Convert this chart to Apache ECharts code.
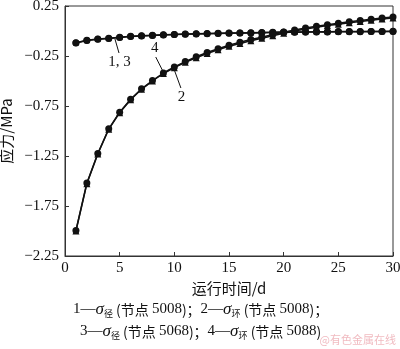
<!DOCTYPE html>
<html>
<head>
<meta charset="utf-8">
<script src="https://cdn.jsdelivr.net/npm/echarts@6/dist/echarts.min.js"></script>
<style>
  html, body { margin: 0; padding: 0; background: #fff; }
  #chart { width: 400px; height: 349px; }
</style>
</head>
<body>
<div id="chart"></div>
<script>
// Running time (days)
const days = [1,2,3,4,5,6,7,8,9,10,11,12,13,14,15,16,17,18,19,20,21,22,23,24,25,26,27,28,29,30];

// 1 — radial stress, node 5008
const radial5008 = [-0.117,-0.093,-0.080,-0.072,-0.062,-0.053,-0.047,-0.042,-0.038,-0.034,-0.031,-0.028,-0.025,-0.023,-0.021,-0.019,-0.017,-0.015,-0.013,-0.011,-0.010,-0.009,-0.008,-0.007,-0.006,-0.005,-0.005,-0.004,-0.004,-0.003];
// 3 — radial stress, node 5068
const radial5068 = [-0.120,-0.096,-0.083,-0.074,-0.064,-0.055,-0.049,-0.044,-0.040,-0.036,-0.033,-0.030,-0.027,-0.025,-0.023,-0.021,-0.019,-0.017,-0.015,-0.013,-0.012,-0.011,-0.010,-0.009,-0.008,-0.007,-0.007,-0.006,-0.006,-0.005];
// 2 — hoop stress, node 5008
const hoop5008 = [-2.000,-1.527,-1.230,-0.983,-0.817,-0.687,-0.583,-0.500,-0.425,-0.367,-0.313,-0.267,-0.225,-0.187,-0.153,-0.125,-0.097,-0.073,-0.047,-0.022,0.000,0.020,0.038,0.054,0.068,0.082,0.096,0.108,0.120,0.130];
// 4 — hoop stress, node 5088
const hoop5088 = [-1.995,-1.520,-1.225,-0.978,-0.812,-0.682,-0.578,-0.495,-0.420,-0.360,-0.306,-0.258,-0.215,-0.177,-0.143,-0.113,-0.085,-0.062,-0.036,-0.012,0.010,0.030,0.048,0.063,0.078,0.092,0.105,0.117,0.130,0.140];

const yTicks = [-2.25,-1.75,-1.25,-0.75,-0.25,0.25];

const serif = '"Liberation Serif", "Times New Roman", serif';
const cjk = '"Noto Sans CJK SC", sans-serif';

const pairs = arr => days.map((d, i) => [d, arr[i]]);
const minus = v => String(v).replace('-', '\u2212');

const lineBase = {
  type: 'line',
  lineStyle: { color: '#111', width: 1.5 },
  itemStyle: { color: '#111' },
  symbolSize: 7,
  z: 3
};

// Annotation leader lines with their labels, in data coordinates
const annot = (from, to, text, pos) => ({
  silent: true,
  symbol: 'none',
  lineStyle: { color: '#111', width: 1, type: 'solid' },
  label: {
    show: true, position: pos, formatter: text, distance: 2,
    fontFamily: serif, fontSize: 15, color: '#111'
  },
  data: [[{ coord: from }, { coord: to }]]
});

const richLegend = {
  s: { fontFamily: serif, fontStyle: 'italic', fontSize: 17 },
  sub: { fontFamily: cjk, fontSize: 9, padding: [9, 0, 0, 0] },
  t: { fontFamily: serif, fontSize: 15 }
};

const chart = echarts.init(document.getElementById('chart'));
chart.setOption({
  animation: false,
  backgroundColor: '#fff',
  grid: {
    left: 65, right: 7, top: 6, bottom: 93,
    containLabel: false, outerBoundsMode: 'none',
    show: true, borderColor: '#333', borderWidth: 1, backgroundColor: 'transparent'
  },
  xAxis: {
    type: 'value', min: 0, max: 30, interval: 5,
    axisLine: { onZero: false, lineStyle: { color: '#333', width: 1 } },
    axisTick: { inside: true, length: 4, lineStyle: { color: '#333' } },
    splitLine: { show: false },
    axisLabel: { fontFamily: serif, fontSize: 15, color: '#111', margin: 5 },
    name: '运行时间/d', nameLocation: 'middle', nameGap: 25,
    nameTextStyle: { fontFamily: cjk, fontSize: 15, color: '#111' }
  },
  yAxis: {
    type: 'value', min: -2.25, max: 0.25,
    axisLine: { show: true, onZero: false, lineStyle: { color: '#333', width: 1 } },
    axisTick: { show: true, inside: true, length: 4, customValues: yTicks, lineStyle: { color: '#333' } },
    splitLine: { show: false },
    axisLabel: { customValues: yTicks, formatter: v => minus(v.toFixed(2)), fontFamily: serif, fontSize: 15, color: '#111', margin: 6 },
    name: '应力/MPa', nameLocation: 'middle', nameGap: 47, nameRotate: 90,
    nameTextStyle: { fontFamily: cjk, fontSize: 15, color: '#111' }
  },
  series: [
    Object.assign({}, lineBase, { name: '1', data: pairs(radial5008), symbol: 'circle',
      markLine: annot([4.57, -0.08], [4.94, -0.22], '1, 3', 'end') }),
    Object.assign({}, lineBase, { name: '3', data: pairs(radial5068), symbol: 'circle' }),
    Object.assign({}, lineBase, { name: '2', data: pairs(hoop5008), symbol: 'triangle',
      markLine: annot([9.9, -0.36], [10.6, -0.57], '2', 'end') }),
    Object.assign({}, lineBase, { name: '4', data: pairs(hoop5088), symbol: 'circle',
      markLine: annot([8.9, -0.39], [8.3, -0.26], '4', 'end') })
  ],
  graphic: [
    {
      type: 'text', left: 73, top: 301,
      style: {
        text: '{t|1—}{s|σ}{sub|径} (节点 {t|5008})；{t|2—}{s|σ}{sub|环} (节点 {t|5008})；',
        font: '14px ' + cjk, fill: '#111', rich: richLegend
      }
    },
    {
      type: 'text', left: 80, top: 323,
      style: {
        text: '{t|3—}{s|σ}{sub|径} (节点 {t|5068})；{t|4—}{s|σ}{sub|环} (节点 {t|5088})',
        font: '14px ' + cjk, fill: '#111', rich: richLegend
      }
    },
    {
      type: 'text', right: 4, top: 334,
      style: { text: '@有色金属在线', font: '11px ' + cjk, fill: 'rgba(230,140,150,0.6)' }
    }
  ]
});
</script>
</body>
</html>
